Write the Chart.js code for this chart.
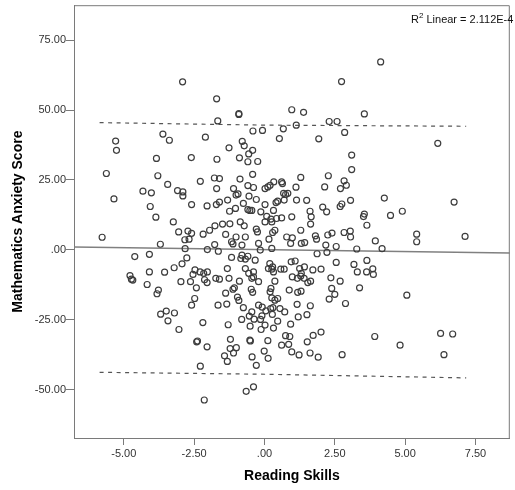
<!DOCTYPE html>
<html>
<head>
<meta charset="utf-8">
<title>Reading Skills vs Mathematics Anxiety</title>
<script src="https://cdn.jsdelivr.net/npm/chart.js@4.4.1/dist/chart.umd.min.js"></script>
<style>
    html, body { margin: 0; padding: 0; background: #fff; }
    #wrap { width: 515px; height: 490px; }
</style>
</head>
<body>
<div id="wrap"><canvas id="scatter" width="515" height="490"></canvas></div>
<script>
// --- Data ---
const readingSkills = [
    -2.91, -5.29, -3.61, -3.38, -2.10,
    -1.70, -1.66, -0.91, -0.91, 0.97, 1.39, 2.74, 2.30, 2.58, -0.41, -0.07, 0.67, 1.13, 0.53, -0.79, 1.93, 2.85, 3.55,
    4.13, 6.16,
    -5.26, -5.62, -5.35, -5.77, -3.84, -3.79, -2.60, -3.44, -4.32, -4.02, -3.09, -2.90, -2.90, -2.28, -4.06, -2.59, -2.04,
    -3.86, -3.24, -3.05, -2.72, -2.59, -2.18, -1.95, -2.83, -2.68, -3.70, -2.82, -2.03, -4.61, -4.09, -2.76, -2.93, -3.21,
    -3.55, -4.09, -4.78, -4.73, -4.68, -4.17, -2.47, -2.54, -2.29, -2.16, -2.03, -2.97, -2.63, -2.13, -2.04,
    -3.77, -3.82, -2.42, -2.48, -2.59, -3.69, -3.49, -3.20, -3.43, -3.04, -2.19, -2.41, -2.38, -2.04, -2.28, -2.14,
    -1.38, -1.12, -1.07, -1.65, -1.34, -0.96, -0.91, -0.75, -0.47, -0.42, -1.29, -0.81, -0.54, -0.45, -0.51, -0.37, -0.14,
    -0.09, -0.21, -0.08, 0.05, 0.22, 0.30, 0.28, 0.55, 0.72, 0.02, -0.12, 0.32, 0.47, 0.93, 0.20, 0.26, 0.47, 0.37, 0.23,
    0.88, 1.18, 1.30, 1.16, 1.63, 1.20, 1.51, 2.30, 2.50, 2.39, 2.88, 3.38, -1.21, -0.52, -0.50, 0.12, -1.22, -1.10, -1.00,
    -1.42, -1.32, -0.44, -0.29, -0.01, 0.13, 0.61, 0.75, 0.90, 0.86, 0.97, 1.23, 1.62, 1.91, 1.52, 1.73, 2.01, 2.76,
    -0.65, -0.39,
    5.06, 3.92, 4.82, 6.26, 6.69, 6.38,
    4.26, 6.74, 3.55, 3.52, 4.48, 4.90, 3.64, 5.41, 5.41, 7.13, 3.94, 4.18, 3.64, 3.63, 3.85, 3.87,
    -1.26, -0.72, -0.42, -0.56, -1.69, -0.89, -0.59, -0.24, 3.10, 3.10, -1.78, -1.60, -1.70, -0.87, -0.42, -0.59, -0.39,
    0.33, 0.61, 0.64, 0.02, 0.12, 0.20, 1.12, 1.29, 2.27, 2.14, 2.70, 2.83, 2.91, -1.10, -1.01, -0.94, -0.55, -0.29, -1.31,
    -0.75, -1.71, -1.60, 0.68, 0.75, 0.83, 0.41, 0.47, 0.70, 1.14, 1.50, 0.02, 2.07, 2.21, 2.69, 2.75, 3.06, -0.59, -0.52,
    -0.45, -1.03, -1.24, -0.13, 0.32, 0.08, 0.23, 0.43, 0.61, 0.97, 1.62, 1.66, 1.64, -1.76, -1.49, -1.23, -0.86, -0.72,
    0.02, 0.26, -0.29, -0.25, -1.38, -1.01, -0.68, 0.29, 0.37, 0.16, 0.79, 0.99, 0.93, 1.29, 1.31, 1.43, 1.81, 1.85, 2.25,
    2.40, 2.83, 3.05, 3.06, -1.77, -1.64, -1.17, -1.12, -0.80, -0.80, -0.84, -0.21, -0.15, 0.26, 1.87, 2.18, 2.22, 2.55,
    3.28, -1.17, -0.59, -0.68, -0.33, 0.19, 0.26, 0.95, 1.09, 2.55, 3.18, -1.32, -0.68, -0.56, -0.39, -0.39, 0.14, 0.32,
    0.29, 0.58, 0.70, 1.25, 1.42, 1.31, 1.72, 2.01, 3.30, -1.73, -1.60, -1.26, -0.89, -0.45, -0.21, 0.99, 1.17, 1.29, 1.41,
    1.54, 1.64, 2.36, 2.69, 0.37
];
const anxietyScores = [
    60.1, 38.9, 41.4, 39.2, 40.3,
    54.0, 46.1, 48.4, 48.7, 50.1, 49.2, 60.2, 45.9, 45.9, 42.5, 42.7, 43.3, 44.6, 39.8, 38.8, 39.7, 42.0, 48.6,
    67.2, 38.1,
    35.6, 27.3, 18.2, 4.5, 32.7, 26.5, 33.0, 23.4, 21.0, 20.4, 21.2, 20.7, 19.3, 24.5, 15.5, 16.2, 15.7,
    11.7, 10.0, 6.4, 6.7, 5.9, 5.6, 7.0, 3.6, 3.8, 2.0, 0.4, 0.1, -2.4, -1.6, -2.9, -5.0, -6.4,
    -8.0, -7.9, -9.2, -10.5, -10.8, -12.4, -7.2, -8.8, -7.9, -8.4, -7.9, -11.4, -11.4, -10.7, -11.7,
    -14.4, -15.7, -13.6, -17.4, -19.8, -23.0, -21.9, -22.6, -25.4, -28.5, -26.0, -32.9, -32.6, -34.7, -41.6, -53.7,
    -15.5, -14.1, -13.6, -19.8, -19.4, -16.9, -18.1, -20.7, -14.1, -15.2, -26.8, -24.9, -23.7, -22.2, -27.3, -24.8, -24.9,
    -23.6, -19.8, -20.5, -21.8, -21.0, -20.7, -23.1, -21.0, -22.2, -26.9, -28.5, -28.0, -25.5, -26.6, -15.0, -17.2, -17.4, -18.0, -13.8,
    -14.4, -15.2, -14.8, -19.5, -20.0, -24.0, -23.2, -17.6, -15.9, -13.8, -19.2, -13.6, -32.0, -32.3, -32.6, -32.5, -35.3, -36.9, -35.0,
    -37.9, -39.9, -38.3, -41.3, -36.2, -38.8, -34.1, -30.7, -31.0, -33.8, -36.5, -37.6, -36.9, -38.4, -32.9, -30.6, -29.4, -37.5,
    -50.6, -49.0,
    -16.2, -31.0, -34.1, -29.9, -30.1, -37.5,
    18.5, 17.1, 12.8, 11.9, 12.3, 13.8, 8.8, 5.6, 2.9, 4.8, 3.2, 0.4, -3.8, -7.9, -6.8, -8.8,
    36.5, 37.2, 35.6, 34.3, 32.4, 32.9, 31.5, 31.6, 33.9, 28.7, 25.7, 25.5, 21.9, 25.3, 27.0, 23.0, 22.3,
    24.3, 24.3, 23.7, 21.9, 22.5, 23.1, 22.4, 25.9, 26.5, 22.5, 21.9, 24.7, 23.1, 21.9, 19.6, 20.0, 19.2, 18.0, 17.8,
    16.6, 16.2, 17.1, 20.2, 19.8, 20.2, 16.9, 17.4, 17.8, 17.8, 17.7, 16.2, 15.3, 13.6, 15.5, 16.4, 17.7, 14.4, 14.1,
    14.1, 14.8, 13.8, 13.6, 14.1, 12.0, 11.0, 11.2, 11.4, 11.8, 13.8, 11.8, 9.2, 8.6, 9.2, 9.3, 10.0, 8.6,
    10.0, 10.0, 7.4, 6.4, 5.5, 4.6, 4.6, 6.2, 7.0, 3.8, 4.6, 4.3, 2.3, 7.0, 2.3, 2.6, 5.0, 3.8, 5.3,
    6.0, 6.2, 6.7, 4.6, 1.9, -0.5, 2.9, 2.1, 1.7, -1.9, -3.1, 2.3, -0.1, 0.5, -1.4, 1.7, -0.9, 1.2,
    0.3, -2.7, -2.3, -3.3, -3.7, -4.9, -6.9, -4.3, -4.0, -4.5, -5.2, -6.7, -6.7, -8.4, -7.9, -9.7, -6.7, -7.9,
    -6.1, -6.9, -6.9, -6.7, -6.1, -8.4, -7.2, -6.9, -7.9, -10.2, -10.5, -10.2, -11.2, -10.2, -11.4, -9.7, -10.2, -9.4, -10.2,
    -11.7, -11.2, -10.0, -11.2, -11.2
];

// fit line across the whole plot, and the 95% individual bands (dashed)
const fitX = [-6.77, 8.72];
const fitY = [1.0, -1.1];
const bandX = [-5.86, 0, 7.17];
const upperBand = [45.5, 44.6, 44.2];
const lowerBand = [-43.8, -44.5, -45.8];

const xTickValues = [-5, -2.5, 0, 2.5, 5, 7.5];
const yTickValues = [-50, -25, 0, 25, 50, 75];
const xRange = [-6.77, 8.72];
const yRange = [-67.3, 87.5];

const r2Text = ' Linear = 2.112E-4';

(function () {
    'use strict';

    const FONT = "'Liberation Sans', Arial, sans-serif";
    const AXIS_GREY = '#7a7a7a';

    const toPoints = (xs, ys) => xs.map((x, i) => ({ x: x, y: ys[i] }));
    const fmtTick = v => (v === 0 ? '.00' : v.toFixed(2));

    // top + right edges of the frame, and the R² note in the corner
    const frameAndNote = {
        id: 'frameAndNote',
        afterDraw(chart) {
            const { ctx, chartArea: a } = chart;
            ctx.save();
            ctx.strokeStyle = AXIS_GREY;
            ctx.lineWidth = 1;
            ctx.beginPath();
            ctx.moveTo(a.left, a.top + 0.5);
            ctx.lineTo(a.right - 0.5, a.top + 0.5);
            ctx.lineTo(a.right - 0.5, a.bottom);
            ctx.stroke();

            ctx.fillStyle = '#111';
            ctx.textBaseline = 'alphabetic';
            let x = 411;
            ctx.font = '11px ' + FONT;
            ctx.fillText('R', x, 23);
            x += ctx.measureText('R').width;
            ctx.font = '8px ' + FONT;
            ctx.fillText('2', x, 18);
            x += ctx.measureText('2').width;
            ctx.font = '11px ' + FONT;
            ctx.fillText(r2Text, x, 23);
            ctx.restore();
        }
    };

    const lineSet = (xs, ys, dash, color, width) => ({
        type: 'line',
        data: toPoints(xs, ys),
        borderColor: color,
        borderWidth: width,
        borderDash: dash,
        pointRadius: 0,
        fill: false,
        tension: 0
    });

    new Chart(document.getElementById('scatter'), {
        type: 'scatter',
        data: {
            datasets: [
                {
                    data: toPoints(readingSkills, anxietyScores),
                    pointStyle: 'circle',
                    pointRadius: 3,
                    borderWidth: 1.2,
                    borderColor: '#3d3d3d',
                    backgroundColor: 'rgba(0,0,0,0)'
                },
                lineSet(fitX, fitY, [], '#808080', 1.5),
                lineSet(bandX, upperBand, [4, 4.5], '#555', 1.2),
                lineSet(bandX, lowerBand, [4, 4.5], '#555', 1.2)
            ]
        },
        options: {
            responsive: false,
            animation: false,
            events: [],
            layout: { padding: { left: 0, top: 5, right: 1, bottom: 0 } },
            plugins: {
                legend: { display: false },
                tooltip: { enabled: false }
            },
            scales: {
                x: {
                    type: 'linear',
                    min: xRange[0],
                    max: xRange[1],
                    afterBuildTicks: s => { s.ticks = xTickValues.map(v => ({ value: v })); },
                    afterFit: s => { s.height = 52; s.paddingLeft = 0; s.paddingRight = 0; },
                    ticks: {
                        callback: fmtTick,
                        color: '#333',
                        padding: 2,
                        maxRotation: 0,
                        autoSkip: false,
                        font: { family: FONT, size: 11 }
                    },
                    grid: { drawOnChartArea: false, tickLength: 7, color: AXIS_GREY },
                    border: { color: AXIS_GREY, width: 1 },
                    title: {
                        display: true,
                        text: 'Reading Skills',
                        color: '#000',
                        padding: { top: 0, bottom: 5 },
                        font: { family: FONT, size: 14, weight: 'bold' }
                    }
                },
                y: {
                    type: 'linear',
                    min: yRange[0],
                    max: yRange[1],
                    afterBuildTicks: s => { s.ticks = yTickValues.map(v => ({ value: v })); },
                    afterFit: s => { s.width = 74; s.paddingTop = 0; s.paddingBottom = 0; },
                    ticks: {
                        callback: fmtTick,
                        color: '#333',
                        padding: 0,
                        autoSkip: false,
                        font: { family: FONT, size: 11 }
                    },
                    grid: { drawOnChartArea: false, tickLength: 8, color: AXIS_GREY },
                    border: { color: AXIS_GREY, width: 1 },
                    title: {
                        display: true,
                        text: 'Mathematics Anxiety Score',
                        color: '#000',
                        padding: { top: 10, bottom: 0 },
                        font: { family: FONT, size: 14, weight: 'bold' }
                    }
                }
            }
        },
        plugins: [frameAndNote]
    });
})();
</script>
</body>
</html>
